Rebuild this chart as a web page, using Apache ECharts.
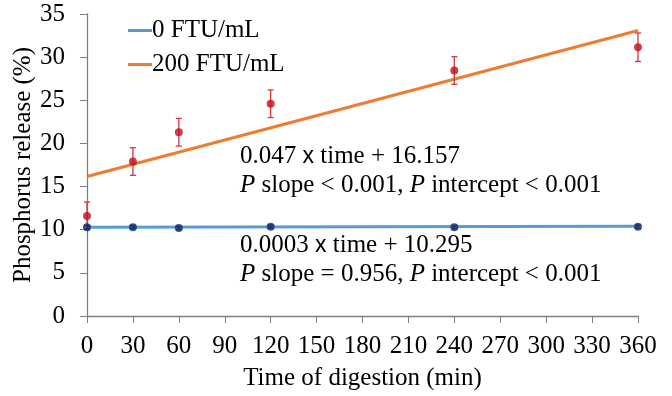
<!DOCTYPE html>
<html>
<head>
<meta charset="utf-8">
<script src="https://cdn.jsdelivr.net/npm/echarts@6/dist/echarts.min.js"></script>
<style>
  html, body { margin: 0; padding: 0; background: #fff; }
  #main { width: 672px; height: 396px; }
</style>
</head>
<body>
<div id="main"></div>
<script>
// sampling times (min)
var times = [0, 30, 60, 120, 240, 360];
// 200 FTU/mL: mean and error (%)
var mean200 = [11.6, 17.9, 21.3, 24.6, 28.45, 31.15];
var err200 = [1.6, 1.6, 1.6, 1.6, 1.6, 1.65];
// 0 FTU/mL: mean and error (%)
var mean0 = [10.3, 10.3, 10.2, 10.35, 10.3, 10.35];
var err0 = [0.2, 0.2, 0.2, 0.2, 0.2, 0.2];
// fitted lines, end points
var fit0 = [[0, 10.3], [360, 10.4]];
var fit200 = [[0, 16.16], [360, 33.08]];
var xTicks = [0, 30, 60, 90, 120, 150, 180, 210, 240, 270, 300, 330, 360];

var font = '"Liberation Serif", "Times New Roman", serif';
var fs = 25;

function pairs(m) {
  return times.map(function (t, i) { return [t, m[i]]; });
}
function errData(m, e) {
  return times.map(function (t, i) { return [t, m[i] - e[i], m[i] + e[i]]; });
}
function errRender(color) {
  return function (params, api) {
    var lo = api.coord([api.value(0), api.value(1)]);
    var hi = api.coord([api.value(0), api.value(2)]);
    var w = 3;
    var st = { stroke: color, lineWidth: 1.3 };
    return {
      type: 'group',
      children: [
        { type: 'line', shape: { x1: lo[0], y1: lo[1], x2: hi[0], y2: hi[1] }, style: st },
        { type: 'line', shape: { x1: lo[0] - w, y1: lo[1], x2: lo[0] + w, y2: lo[1] }, style: st },
        { type: 'line', shape: { x1: hi[0] - w, y1: hi[1], x2: hi[0] + w, y2: hi[1] }, style: st }
      ]
    };
  };
}

var chart = echarts.init(document.getElementById('main'));
var txtRich = {
  x: { fontFamily: '"Liberation Sans", Arial, sans-serif', fontSize: 23, fill: '#000' },
  i: { fontFamily: font, fontStyle: 'italic', fontSize: fs, fill: '#000' }
};
chart.setOption({
  animation: false,
  backgroundColor: '#fff',
  grid: { left: 87, right: 34, top: 14, bottom: 80, containLabel: false, outerBoundsMode: 'none' },
  legend: {
    orient: 'vertical',
    left: 123,
    top: 13,
    itemGap: 9,
    itemWidth: 24,
    itemHeight: 3,
    icon: 'rect',
    textStyle: { fontFamily: font, fontSize: fs, color: '#000', padding: [0, 0, 0, -5] },
    data: ['0 FTU/mL', '200 FTU/mL']
  },
  xAxis: {
    type: 'value',
    min: 0,
    max: 360,
    interval: 30,
    name: 'Time of digestion (min)',
    nameLocation: 'middle',
    nameGap: 50,
    nameMoveOverlap: false,
    nameTextStyle: { fontFamily: font, fontSize: fs, color: '#000' },
    axisLine: { lineStyle: { color: '#7f7f7f', width: 1.3 } },
    axisTick: { show: true, length: 7, lineStyle: { color: '#7f7f7f' } },
    axisLabel: {
      fontFamily: font, fontSize: fs, color: '#000', margin: 18,
      formatter: function (v) { return xTicks.indexOf(v) >= 0 ? String(v) : ''; }
    },
    splitLine: { show: false }
  },
  yAxis: {
    type: 'value',
    min: 0,
    max: 35,
    interval: 5,
    name: 'Phosphorus release (%)',
    nameLocation: 'middle',
    nameGap: 51,
    nameMoveOverlap: false,
    nameTextStyle: { fontFamily: font, fontSize: fs, color: '#000' },
    axisLine: { show: true, lineStyle: { color: '#7f7f7f', width: 1.3 } },
    axisTick: { show: true, length: 7, lineStyle: { color: '#7f7f7f' } },
    axisLabel: { fontFamily: font, fontSize: fs, color: '#000', margin: 22 },
    splitLine: { show: false }
  },
  series: [
    {
      name: '0 FTU/mL', type: 'line', data: fit0, showSymbol: false,
      color: '#5B9BD5', lineStyle: { color: '#5B9BD5', width: 3 }, z: 2
    },
    {
      name: '200 FTU/mL', type: 'line', data: fit200, showSymbol: false,
      color: '#ED7D31', lineStyle: { color: '#ED7D31', width: 3 }, z: 2
    },
    { type: 'custom', data: errData(mean200, err200), renderItem: errRender('#D2373C'), z: 3 },
    { type: 'custom', data: errData(mean0, err0), renderItem: errRender('#1F3A78'), z: 3 },
    {
      type: 'scatter', data: pairs(mean200), symbol: 'circle', symbolSize: 8,
      itemStyle: { color: '#C0101A' }, z: 4
    },
    {
      type: 'scatter', data: pairs(mean0), symbol: 'circle', symbolSize: 8,
      itemStyle: { color: '#13306E' }, z: 4
    }
  ],
  graphic: [
    {
      type: 'text', left: 240, top: 144,
      style: { text: '0.047 {x|x} time + 16.157', fontFamily: font, fontSize: fs, fill: '#000', rich: txtRich }
    },
    {
      type: 'text', left: 240, top: 173,
      style: { text: '{i|P} slope < 0.001, {i|P} intercept < 0.001', fontFamily: font, fontSize: fs, fill: '#000', rich: txtRich }
    },
    {
      type: 'text', left: 240, top: 233,
      style: { text: '0.0003 {x|x} time + 10.295', fontFamily: font, fontSize: fs, fill: '#000', rich: txtRich }
    },
    {
      type: 'text', left: 240, top: 262,
      style: { text: '{i|P} slope = 0.956, {i|P} intercept < 0.001', fontFamily: font, fontSize: fs, fill: '#000', rich: txtRich }
    }
  ]
});
</script>
</body>
</html>
